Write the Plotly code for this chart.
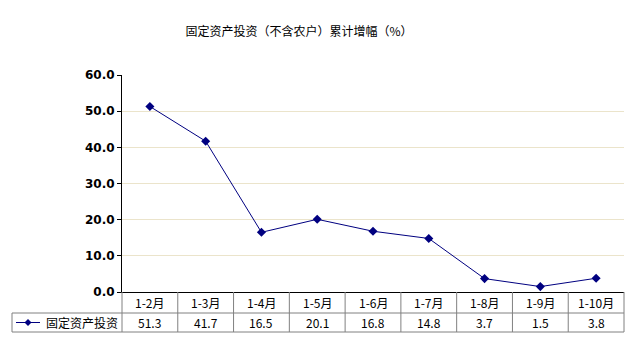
import plotly.graph_objects as go

categories = ["1-2月", "1-3月", "1-4月", "1-5月", "1-6月", "1-7月", "1-8月", "1-9月", "1-10月"]
values = [51.3, 41.7, 16.5, 20.1, 16.8, 14.8, 3.7, 1.5, 3.8]
value_labels = ["51.3", "41.7", "16.5", "20.1", "16.8", "14.8", "3.7", "1.5", "3.8"]
series_name = "固定资产投资"
title_text = "固定资产投资（不含农户）累计增幅（%）"
y_ticks = [0, 10, 20, 30, 40, 50, 60]

W, H = 640, 358
L, R, T, B = 122, 624, 75, 292
pw, ph = R - L, B - T

def px2paper_x(px):
    return (px - L) / pw

def px2paper_y(py):
    return (B - py) / ph

navy = "#000080"
grid_c = "#ebe4cb"
border_c = "#808080"
font_cjk = "Noto Sans CJK SC, SimSun, sans-serif"

n = len(categories)
xs = list(range(n))

fig = go.Figure()
fig.add_trace(go.Scatter(
    x=xs, y=values, mode="lines+markers",
    line=dict(color=navy, width=1),
    marker=dict(symbol="diamond", size=7, color=navy),
    showlegend=False, hoverinfo="skip",
))

shapes = []
annotations = []

row1_top, row1_bot = 292, 313
row2_top, row2_bot = 313, 332
left_cell = 12

def hline(px0, px1, py, color=border_c, width=1):
    shapes.append(dict(type="line", xref="paper", yref="paper",
                       x0=px2paper_x(px0), x1=px2paper_x(px1),
                       y0=px2paper_y(py), y1=px2paper_y(py),
                       line=dict(color=color, width=width)))

def vline(px, py0, py1, color=border_c, width=1):
    shapes.append(dict(type="line", xref="paper", yref="paper",
                       x0=px2paper_x(px), x1=px2paper_x(px),
                       y0=px2paper_y(py0), y1=px2paper_y(py1),
                       line=dict(color=color, width=width)))

# table horizontal borders
hline(L, R, row1_bot)
hline(left_cell, L, row2_top)
hline(left_cell, R, row2_bot)
# vertical borders
vline(left_cell, row2_top, row2_bot)
for i in range(n + 1):
    px = L + pw * i / n
    vline(px, row1_top, row2_bot)

# category and value text
for i, (c, v) in enumerate(zip(categories, value_labels)):
    annotations.append(dict(x=i, xref="x", y=px2paper_y((row1_top + row1_bot) / 2), yref="paper",
                            text=c, showarrow=False, font=dict(size=12, color="black", family=font_cjk),
                            xanchor="center", yanchor="middle"))
    annotations.append(dict(x=i, xref="x", y=px2paper_y((row2_top + row2_bot) / 2), yref="paper",
                            text=v, showarrow=False, font=dict(size=12, color="black", family=font_cjk),
                            xanchor="center", yanchor="middle"))

# legend key in table
ly = (row2_top + row2_bot) / 2
shapes.append(dict(type="line", xref="paper", yref="paper",
                   x0=px2paper_x(16), x1=px2paper_x(40),
                   y0=px2paper_y(ly), y1=px2paper_y(ly),
                   line=dict(color=navy, width=1)))
cx, cy, d = 28, ly, 3.5
path = "M {} {} L {} {} L {} {} L {} {} Z".format(
    px2paper_x(cx - d), px2paper_y(cy),
    px2paper_x(cx), px2paper_y(cy - d),
    px2paper_x(cx + d), px2paper_y(cy),
    px2paper_x(cx), px2paper_y(cy + d))
shapes.append(dict(type="path", xref="paper", yref="paper", path=path,
                   fillcolor=navy, line=dict(color=navy, width=0)))
annotations.append(dict(x=px2paper_x(44), xref="paper", y=px2paper_y(ly), yref="paper",
                        text=series_name, showarrow=False,
                        font=dict(size=12, color="black", family=font_cjk),
                        xanchor="left", yanchor="middle"))

fig.update_layout(
    width=W, height=H,
    margin=dict(l=L, r=W - R, t=T, b=H - B),
    paper_bgcolor="white", plot_bgcolor="white",
    title=dict(text=title_text, x=299 / W, xanchor="center", y=1 - 32 / H, yanchor="middle",
               font=dict(size=12, color="black", family=font_cjk)),
    xaxis=dict(range=[-0.5, n - 0.5], showticklabels=False, showgrid=False, zeroline=False,
               showline=True, linecolor="black", linewidth=1, ticks="", fixedrange=True),
    yaxis=dict(range=[0, 60], tickvals=y_ticks, tickformat=".1f", showgrid=True, gridcolor=grid_c,
               gridwidth=1, zeroline=False, showline=True, linecolor="black", linewidth=1,
               ticks="outside", ticklen=4, tickcolor="black",
               tickfont=dict(size=12, color="black", family="DejaVu Sans, sans-serif", weight="bold"),
               fixedrange=True),
    shapes=shapes, annotations=annotations,
)

fig.write_html("out.html", config={"displayModeBar": False},
               post_script="document.body.style.margin='0';document.body.style.overflow='hidden';")
